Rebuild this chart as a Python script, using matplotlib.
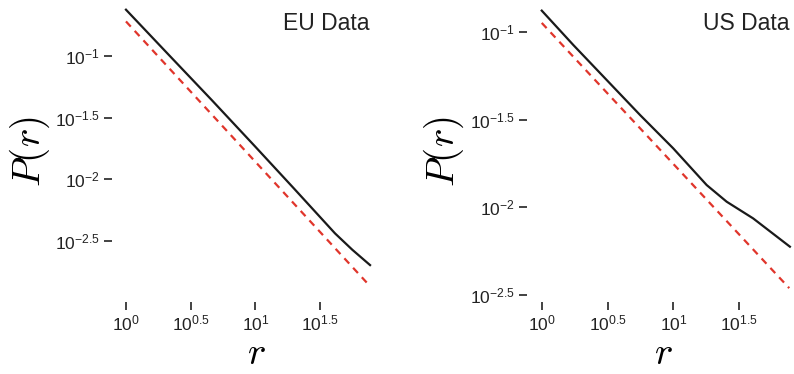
import matplotlib
matplotlib.use("Agg")
import matplotlib.pyplot as plt
import numpy as np

plt.rcParams['font.family'] = ['Liberation Sans', 'DejaVu Sans']

# values, as log10 exponents
eu_logr = [0.0, 0.33, 0.663, 1.0, 1.3, 1.616, 1.75, 1.887]
eu_logp = [-0.625, -0.99, -1.357, -1.735, -2.075, -2.437, -2.57, -2.694]
eu_fit_logr = [0.0, 1.887]
eu_fit_logp = [-0.72, -2.865]

us_logr = [0.0, 0.24, 0.493, 0.746, 0.998, 1.252, 1.404, 1.605, 1.884]
us_logp = [-0.88, -1.076, -1.275, -1.474, -1.664, -1.873, -1.968, -2.063, -2.224]
us_fit_logr = [0.0, 1.879]
us_fit_logp = [-0.95, -2.46]

xtick_exp = [0, 0.5, 1, 1.5]
ytick_exp = [-1, -1.5, -2, -2.5]
titles = ['EU Data', 'US Data']

def fmt(e):
    s = '%g' % e
    return r'$\mathregular{10^{%s}}$' % s

fig = plt.figure(figsize=(7.94, 3.74), dpi=100)
W, H = 794, 374
# axes boxes in pixels: left, right, top, bottom
boxes = [(112, 372, 5, 302), (527, 792, 5, 302)]
xlims = [(-0.108, 1.902), (-0.112, 1.90)]
ylims = [(-2.993, -0.587), (-2.539, -0.848)]
data = [(eu_logr, eu_logp, eu_fit_logr, eu_fit_logp),
        (us_logr, us_logp, us_fit_logr, us_fit_logp)]

for i in range(2):
    l, r, t, b = boxes[i]
    ax = fig.add_axes([l / W, 1 - b / H, (r - l) / W, (b - t) / H])
    lr, lp, fr, fp = data[i]
    ax.plot(10 ** np.array(lr), 10 ** np.array(lp), color='#1a1a1a', lw=1.6)
    ax.plot(10 ** np.array(fr), 10 ** np.array(fp), color='#e0352b', lw=1.6,
            dashes=(3.2, 2.6))
    ax.set_xscale('log')
    ax.set_yscale('log')
    ax.set_xlim(10 ** xlims[i][0], 10 ** xlims[i][1])
    ax.set_ylim(10 ** ylims[i][0], 10 ** ylims[i][1])
    ax.set_xticks([10 ** e for e in xtick_exp])
    ax.set_xticklabels([fmt(e) for e in xtick_exp])
    ax.set_yticks([10 ** e for e in ytick_exp])
    ax.set_yticklabels([fmt(e) for e in ytick_exp])
    ax.minorticks_off()
    ax.tick_params(labelsize=12.5, length=5.5, width=1.2, pad=3, color='#222222',
                   labelcolor='#222222')
    for s in ax.spines.values():
        s.set_visible(False)
    ax.text(-0.315, 0.508, r'$P(r)$', transform=ax.transAxes, rotation=90,
            ha='center', va='center', fontsize=28, math_fontfamily='cm')
    ax.text(0.554 if i == 0 else 0.513, -0.175, r'$r$', transform=ax.transAxes,
            ha='center', va='center', fontsize=28, math_fontfamily='cm')
    ax.text(0.992, 0.939, titles[i], transform=ax.transAxes, ha='right',
            va='center', fontsize=16.5, color='#222222')

fig.savefig('out.png', dpi=100)
